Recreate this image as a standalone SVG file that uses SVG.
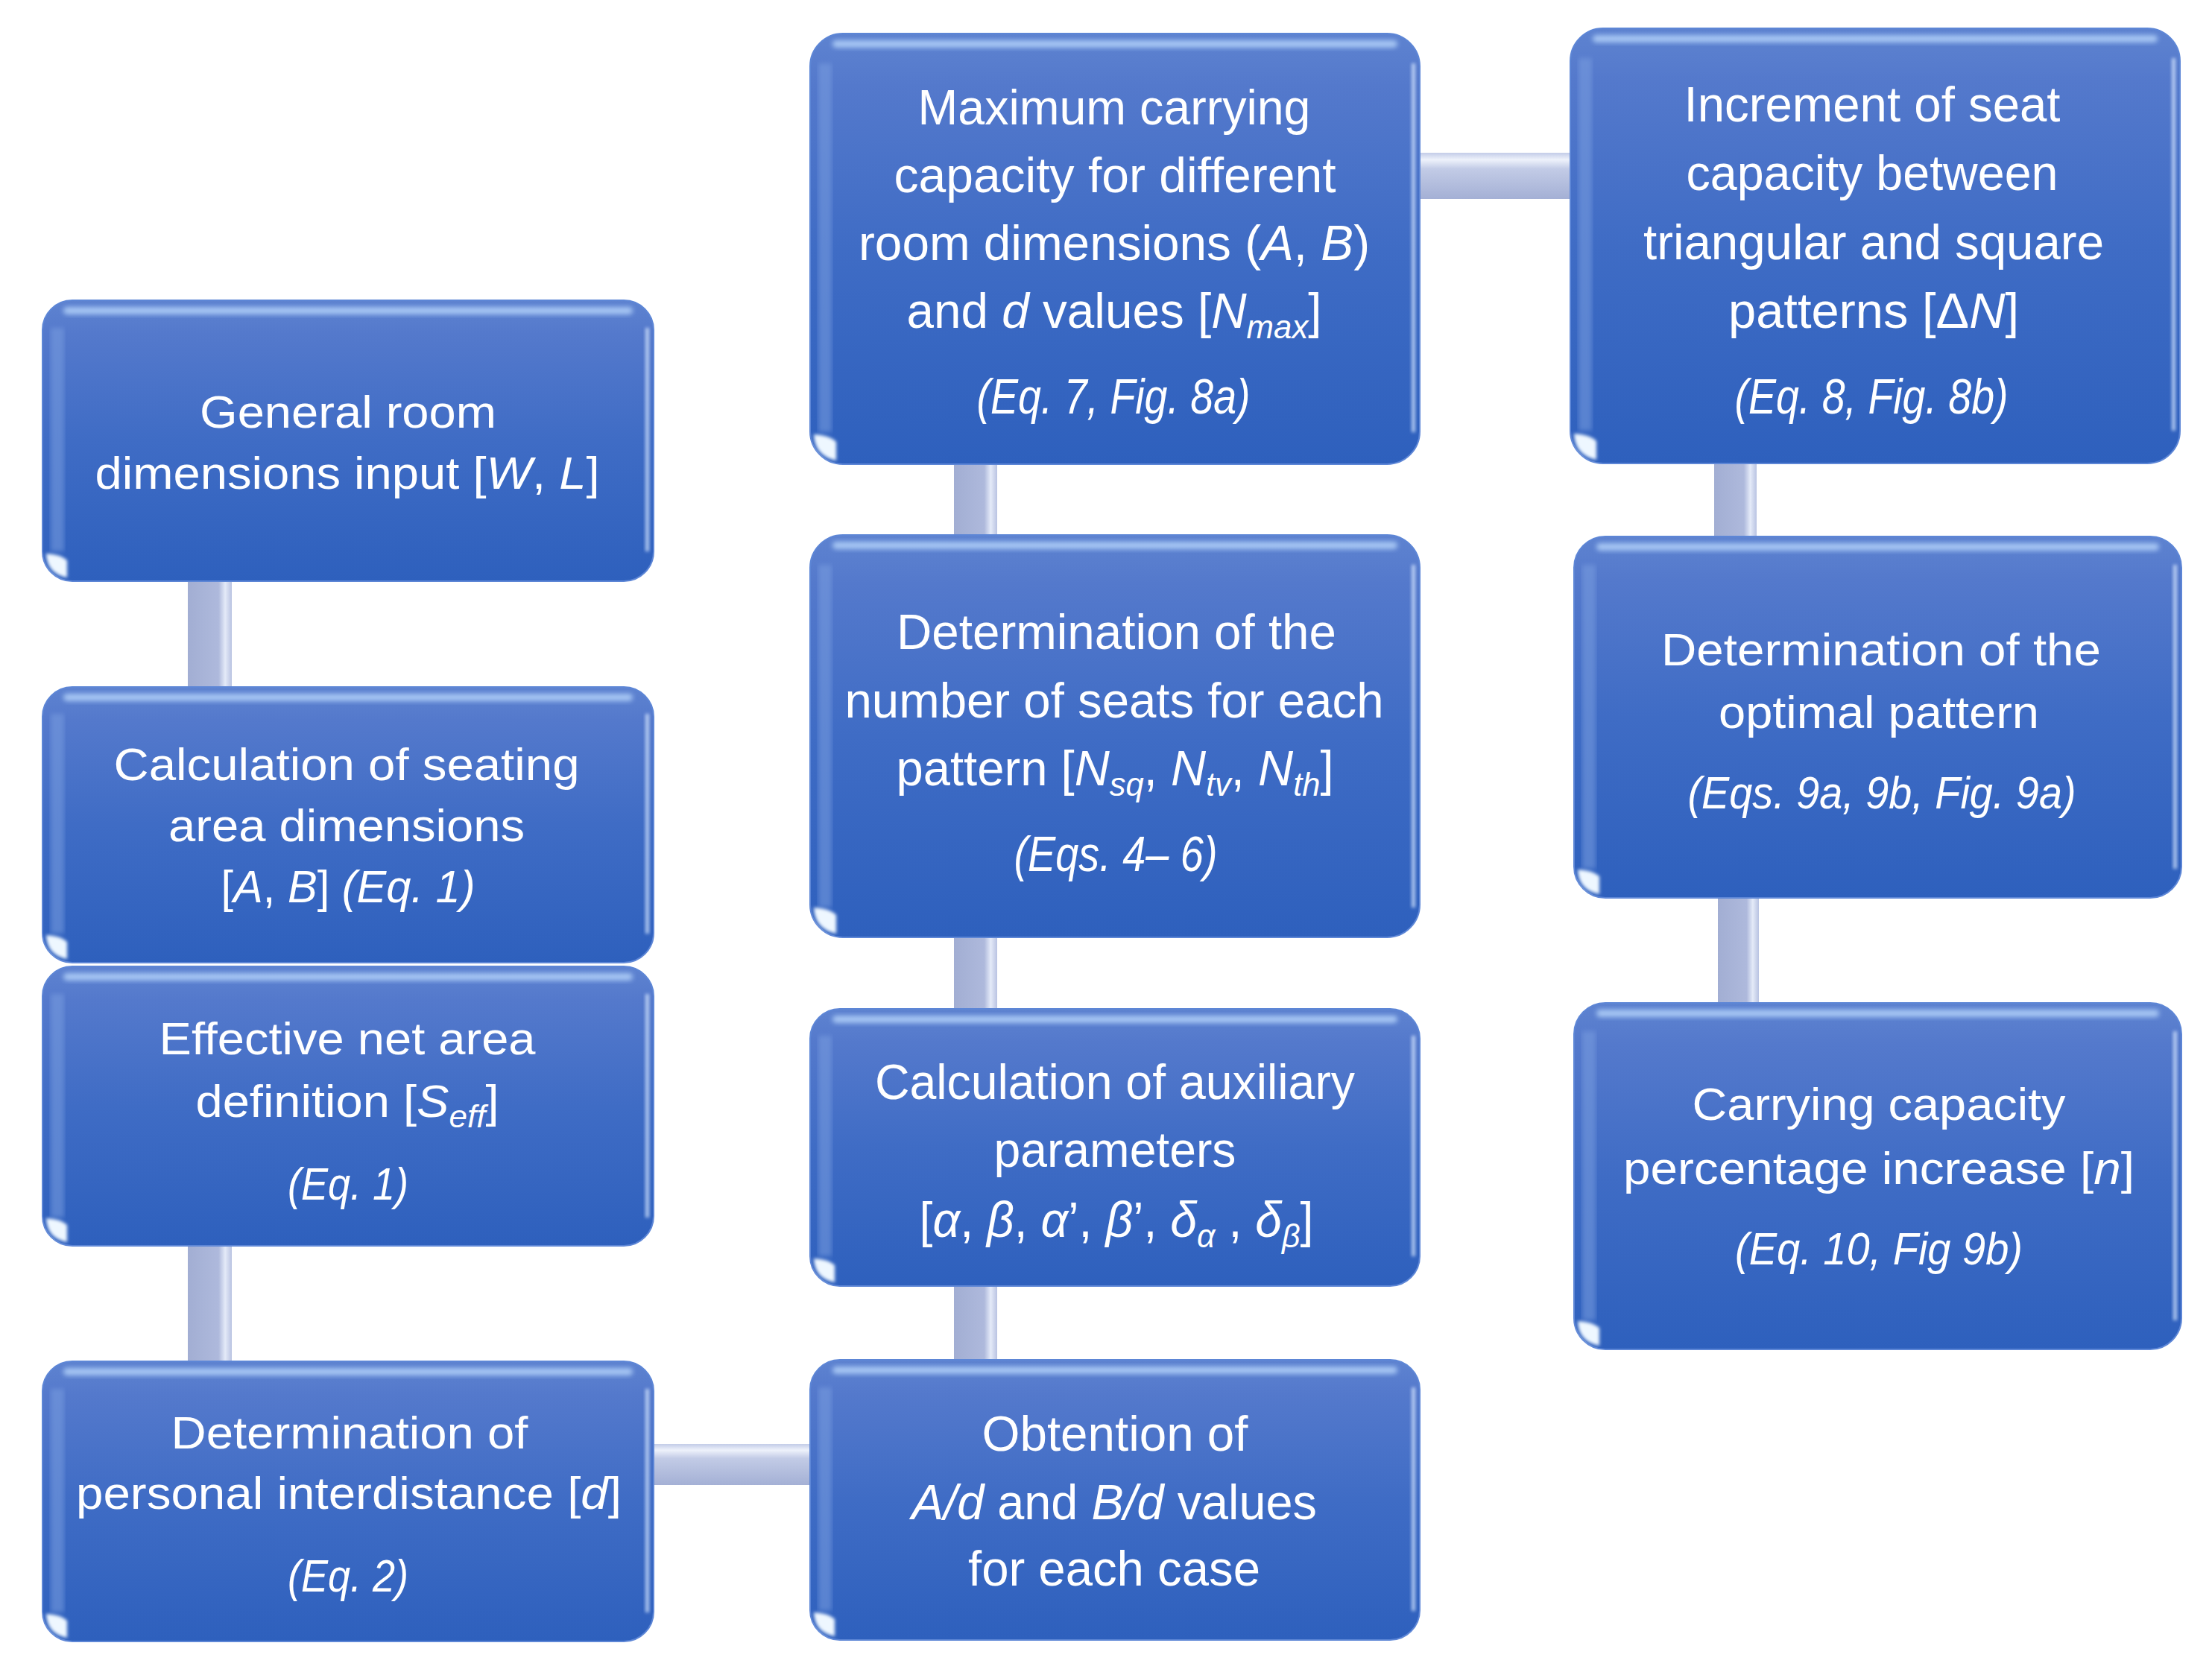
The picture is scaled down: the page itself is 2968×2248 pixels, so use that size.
<svg xmlns="http://www.w3.org/2000/svg" width="2968" height="2248" viewBox="0 0 2968 2248">
<style>
  .box { fill: url(#boxFill); stroke: #5d86d6; stroke-width: 2; }
  .hl { fill: #b3d2fa; opacity: 0.85; filter: url(#soft); }
  .lb { fill: #7a9ee0; opacity: 0.55; filter: url(#soft); }
  .rb { fill: #d8e8ff; opacity: 0.75; filter: url(#soft2); }
  .gl { fill: #eef7ff; filter: url(#soft2); }
  .t { font-family: "Liberation Sans Narrow", "Liberation Sans", Arial, sans-serif; font-size: 62px; fill: #ffffff; text-anchor: middle; }
  .big .t { font-size: 66px; }
  .i { font-style: italic; }
  .sub { font-size: 42px; font-style: italic; }
  .big .sub { font-size: 44px; }
  .cv { fill: url(#connV); }
  .ch { fill: url(#connH); }
</style>
<defs>
  <linearGradient id="boxFill" x1="0" y1="0" x2="0" y2="1">
    <stop offset="0" stop-color="#5e83d0"/>
    <stop offset="0.12" stop-color="#5479cc"/>
    <stop offset="0.5" stop-color="#3f6cc5"/>
    <stop offset="1" stop-color="#2e60bd"/>
  </linearGradient>
  <linearGradient id="connV" x1="0" y1="0" x2="1" y2="0">
    <stop offset="0" stop-color="#a2aed3"/>
    <stop offset="0.7" stop-color="#aeb9dc"/>
    <stop offset="0.85" stop-color="#e4eaf8"/>
    <stop offset="1" stop-color="#b9c3e2"/>
  </linearGradient>
  <linearGradient id="connH" x1="0" y1="0" x2="0" y2="1">
    <stop offset="0" stop-color="#c3cce8"/>
    <stop offset="0.15" stop-color="#eef2fb"/>
    <stop offset="0.35" stop-color="#c2cbe6"/>
    <stop offset="1" stop-color="#a4b0d5"/>
  </linearGradient>
  <filter id="soft" x="-10%" y="-50%" width="120%" height="200%">
    <feGaussianBlur stdDeviation="3"/>
  </filter>
  <filter id="soft2" x="-50%" y="-50%" width="200%" height="200%">
    <feGaussianBlur stdDeviation="2"/>
  </filter>
</defs>
<rect x="0" y="0" width="2968" height="2248" fill="#ffffff"/>

<g id="connectors">
  <rect class="cv" x="252" y="775" width="59" height="152"/>
  <rect class="cv" x="252" y="1667" width="59" height="165"/>
  <rect class="ch" x="872" y="1938" width="220" height="55"/>
  <rect class="cv" x="1280" y="1721" width="58" height="109"/>
  <rect class="cv" x="1280" y="1253" width="58" height="106"/>
  <rect class="cv" x="1280" y="618" width="58" height="105"/>
  <rect class="ch" x="1900" y="205" width="212" height="62"/>
  <rect class="cv" x="2300" y="617" width="57" height="108"/>
  <rect class="cv" x="2305" y="1200" width="55" height="151"/>
</g>

<g id="node-general-room">
  <rect class="box" x="57" y="403" width="820" height="377" rx="40"/>
  <rect class="lb" x="68" y="440" width="18" height="300"/>
  <rect class="hl" x="85" y="412" width="764" height="10" rx="5"/>
  <rect class="rb" x="866" y="440" width="5" height="300"/>
  <path class="gl" d="M62 743 Q63 770 90 775 L90 752 Q82 744 62 743 Z"/>
  <text class="t" x="467" y="574" textLength="398" lengthAdjust="spacingAndGlyphs">General room</text>
  <text class="t" x="466" y="656" textLength="677" lengthAdjust="spacingAndGlyphs">dimensions input [<tspan class="i">W</tspan>, <tspan class="i">L</tspan>]</text>
</g>

<g id="node-seating-area">
  <rect class="box" x="57" y="922" width="820" height="370" rx="40"/>
  <rect class="lb" x="68" y="958" width="18" height="295"/>
  <rect class="hl" x="85" y="931" width="764" height="10" rx="5"/>
  <rect class="rb" x="866" y="958" width="5" height="295"/>
  <path class="gl" d="M62 1255 Q63 1282 90 1287 L90 1264 Q82 1256 62 1255 Z"/>
  <text class="t" x="465" y="1047" textLength="625" lengthAdjust="spacingAndGlyphs">Calculation  of seating</text>
  <text class="t" x="465" y="1129" textLength="478" lengthAdjust="spacingAndGlyphs">area dimensions</text>
  <text class="t" x="467" y="1211" textLength="341" lengthAdjust="spacingAndGlyphs">[<tspan class="i">A</tspan>, <tspan class="i">B</tspan>] <tspan class="i">(Eq. 1)</tspan></text>
</g>

<g id="node-effective-area">
  <rect class="box" x="57" y="1297" width="820" height="375" rx="40"/>
  <rect class="lb" x="68" y="1334" width="18" height="300"/>
  <rect class="hl" x="85" y="1306" width="764" height="10" rx="5"/>
  <rect class="rb" x="866" y="1334" width="5" height="300"/>
  <path class="gl" d="M62 1635 Q63 1662 90 1667 L90 1644 Q82 1636 62 1635 Z"/>
  <text class="t" x="466" y="1415" textLength="505" lengthAdjust="spacingAndGlyphs">Effective net area</text>
  <text class="t" x="466" y="1499" textLength="407" lengthAdjust="spacingAndGlyphs">definition [<tspan class="i">S</tspan><tspan class="sub" dy="14">eff</tspan><tspan dy="-14">]</tspan></text>
  <text class="t i" x="467" y="1610" textLength="162" lengthAdjust="spacingAndGlyphs">(Eq. 1)</text>
</g>

<g id="node-interdistance">
  <rect class="box" x="57" y="1827" width="820" height="376" rx="40"/>
  <rect class="lb" x="68" y="1864" width="18" height="300"/>
  <rect class="hl" x="85" y="1836" width="764" height="10" rx="5"/>
  <rect class="rb" x="866" y="1864" width="5" height="300"/>
  <path class="gl" d="M62 2166 Q63 2193 90 2198 L90 2175 Q82 2167 62 2166 Z"/>
  <text class="t" x="469" y="1944" textLength="479" lengthAdjust="spacingAndGlyphs">Determination  of</text>
  <text class="t" x="468" y="2025" textLength="732" lengthAdjust="spacingAndGlyphs">personal interdistance [<tspan class="i">d</tspan>]</text>
  <text class="t i" x="467" y="2136" textLength="162" lengthAdjust="spacingAndGlyphs">(Eq. 2)</text>
</g>

<g id="node-max-capacity" class="big">
  <rect class="box" x="1087" y="45" width="818" height="578" rx="44"/>
  <rect class="lb" x="1098" y="85" width="18" height="495"/>
  <rect class="hl" x="1117" y="54" width="758" height="10" rx="5"/>
  <rect class="rb" x="1894" y="85" width="5" height="495"/>
  <path class="gl" d="M1092 583 Q1093 612 1122 618 L1122 593 Q1113 584 1092 583 Z"/>
  <text class="t" x="1495" y="167" textLength="527" lengthAdjust="spacingAndGlyphs">Maximum carrying</text>
  <text class="t" x="1496" y="258" textLength="593" lengthAdjust="spacingAndGlyphs">capacity for different</text>
  <text class="t" x="1495" y="349" textLength="686" lengthAdjust="spacingAndGlyphs">room dimensions (<tspan class="i">A</tspan>, <tspan class="i">B</tspan>)</text>
  <text class="t" x="1495" y="440" textLength="557" lengthAdjust="spacingAndGlyphs">and <tspan class="i">d</tspan> values  [<tspan class="i">N</tspan><tspan class="sub" dy="14">max</tspan><tspan dy="-14">]</tspan></text>
  <text class="t i" x="1494" y="555" textLength="367" lengthAdjust="spacingAndGlyphs">(Eq. 7, Fig. 8a)</text>
</g>

<g id="node-seats-pattern" class="big">
  <rect class="box" x="1087" y="718" width="818" height="540" rx="44"/>
  <rect class="lb" x="1098" y="758" width="18" height="460"/>
  <rect class="hl" x="1117" y="727" width="758" height="10" rx="5"/>
  <rect class="rb" x="1894" y="758" width="5" height="460"/>
  <path class="gl" d="M1092 1218 Q1093 1247 1122 1253 L1122 1228 Q1113 1219 1092 1218 Z"/>
  <text class="t" x="1498" y="871" textLength="590" lengthAdjust="spacingAndGlyphs">Determination  of the</text>
  <text class="t" x="1495" y="963" textLength="723" lengthAdjust="spacingAndGlyphs">number of seats for each</text>
  <text class="t" x="1496" y="1054" textLength="587" lengthAdjust="spacingAndGlyphs">pattern [<tspan class="i">N</tspan><tspan class="sub" dy="14">sq</tspan><tspan dy="-14">, </tspan><tspan class="i">N</tspan><tspan class="sub" dy="14">tv</tspan><tspan dy="-14">, </tspan><tspan class="i">N</tspan><tspan class="sub" dy="14">th</tspan><tspan dy="-14">]</tspan></text>
  <text class="t i" x="1497" y="1169" textLength="273" lengthAdjust="spacingAndGlyphs">(Eqs. 4– 6)</text>
</g>

<g id="node-auxiliary" class="big">
  <rect class="box" x="1087" y="1354" width="818" height="372" rx="40"/>
  <rect class="lb" x="1098" y="1390" width="18" height="296"/>
  <rect class="hl" x="1117" y="1363" width="758" height="10" rx="5"/>
  <rect class="rb" x="1894" y="1390" width="5" height="296"/>
  <path class="gl" d="M1092 1689 Q1093 1716 1120 1721 L1120 1698 Q1112 1690 1092 1689 Z"/>
  <text class="t" x="1496" y="1475" textLength="644" lengthAdjust="spacingAndGlyphs">Calculation  of auxiliary</text>
  <text class="t" x="1496" y="1566" textLength="325" lengthAdjust="spacingAndGlyphs">parameters</text>
  <text class="t" x="1498" y="1660" textLength="529" lengthAdjust="spacingAndGlyphs">[<tspan class="i">α</tspan>, <tspan class="i">β</tspan>, <tspan class="i">α</tspan>’, <tspan class="i">β</tspan>’, <tspan class="i">δ</tspan><tspan class="sub" dy="14">α</tspan><tspan dy="-14"> , </tspan><tspan class="i">δ</tspan><tspan class="sub" dy="14">β</tspan><tspan dy="-14">]</tspan></text>
</g>

<g id="node-obtention" class="big">
  <rect class="box" x="1087" y="1825" width="818" height="376" rx="40"/>
  <rect class="lb" x="1098" y="1862" width="18" height="300"/>
  <rect class="hl" x="1117" y="1834" width="758" height="10" rx="5"/>
  <rect class="rb" x="1894" y="1862" width="5" height="300"/>
  <path class="gl" d="M1092 2164 Q1093 2191 1120 2196 L1120 2173 Q1112 2165 1092 2164 Z"/>
  <text class="t" x="1496" y="1947" textLength="357" lengthAdjust="spacingAndGlyphs">Obtention of</text>
  <text class="t" x="1495" y="2039" textLength="544" lengthAdjust="spacingAndGlyphs"><tspan class="i">A/d</tspan> and <tspan class="i">B/d</tspan> values</text>
  <text class="t" x="1495" y="2128" textLength="392" lengthAdjust="spacingAndGlyphs">for each case</text>
</g>

<g id="node-increment" class="big">
  <rect class="box" x="2107" y="38" width="818" height="584" rx="44"/>
  <rect class="lb" x="2118" y="78" width="18" height="500"/>
  <rect class="hl" x="2137" y="47" width="758" height="10" rx="5"/>
  <rect class="rb" x="2914" y="78" width="5" height="500"/>
  <path class="gl" d="M2112 582 Q2113 611 2142 617 L2142 592 Q2133 583 2112 582 Z"/>
  <text class="t" x="2512" y="163" textLength="505" lengthAdjust="spacingAndGlyphs">Increment of seat</text>
  <text class="t" x="2512" y="255" textLength="499" lengthAdjust="spacingAndGlyphs">capacity between</text>
  <text class="t" x="2514" y="348" textLength="618" lengthAdjust="spacingAndGlyphs">triangular and square</text>
  <text class="t" x="2514" y="440" textLength="390" lengthAdjust="spacingAndGlyphs">patterns [Δ<tspan class="i">N</tspan>]</text>
  <text class="t i" x="2511" y="555" textLength="367" lengthAdjust="spacingAndGlyphs">(Eq. 8, Fig. 8b)</text>
</g>

<g id="node-optimal">
  <rect class="box" x="2112" y="720" width="815" height="485" rx="42"/>
  <rect class="lb" x="2123" y="758" width="18" height="408"/>
  <rect class="hl" x="2142" y="729" width="755" height="10" rx="5"/>
  <rect class="rb" x="2916" y="758" width="5" height="408"/>
  <path class="gl" d="M2117 1167 Q2118 1195 2146 1200 L2146 1176 Q2137 1168 2117 1167 Z"/>
  <text class="t" x="2524" y="893" textLength="590" lengthAdjust="spacingAndGlyphs">Determination  of the</text>
  <text class="t" x="2521" y="977" textLength="430" lengthAdjust="spacingAndGlyphs">optimal pattern</text>
  <text class="t i" x="2525" y="1085" textLength="521" lengthAdjust="spacingAndGlyphs">(Eqs. 9a, 9b, Fig. 9a)</text>
</g>

<g id="node-percentage">
  <rect class="box" x="2112" y="1346" width="815" height="465" rx="42"/>
  <rect class="lb" x="2123" y="1384" width="18" height="388"/>
  <rect class="hl" x="2142" y="1355" width="755" height="10" rx="5"/>
  <rect class="rb" x="2916" y="1384" width="5" height="388"/>
  <path class="gl" d="M2117 1773 Q2118 1801 2146 1806 L2146 1782 Q2137 1774 2117 1773 Z"/>
  <text class="t" x="2521" y="1503" textLength="501" lengthAdjust="spacingAndGlyphs">Carrying  capacity</text>
  <text class="t" x="2521" y="1589" textLength="686" lengthAdjust="spacingAndGlyphs">percentage increase [<tspan class="i">n</tspan>]</text>
  <text class="t i" x="2521" y="1697" textLength="386" lengthAdjust="spacingAndGlyphs">(Eq. 10, Fig 9b)</text>
</g>
</svg>
